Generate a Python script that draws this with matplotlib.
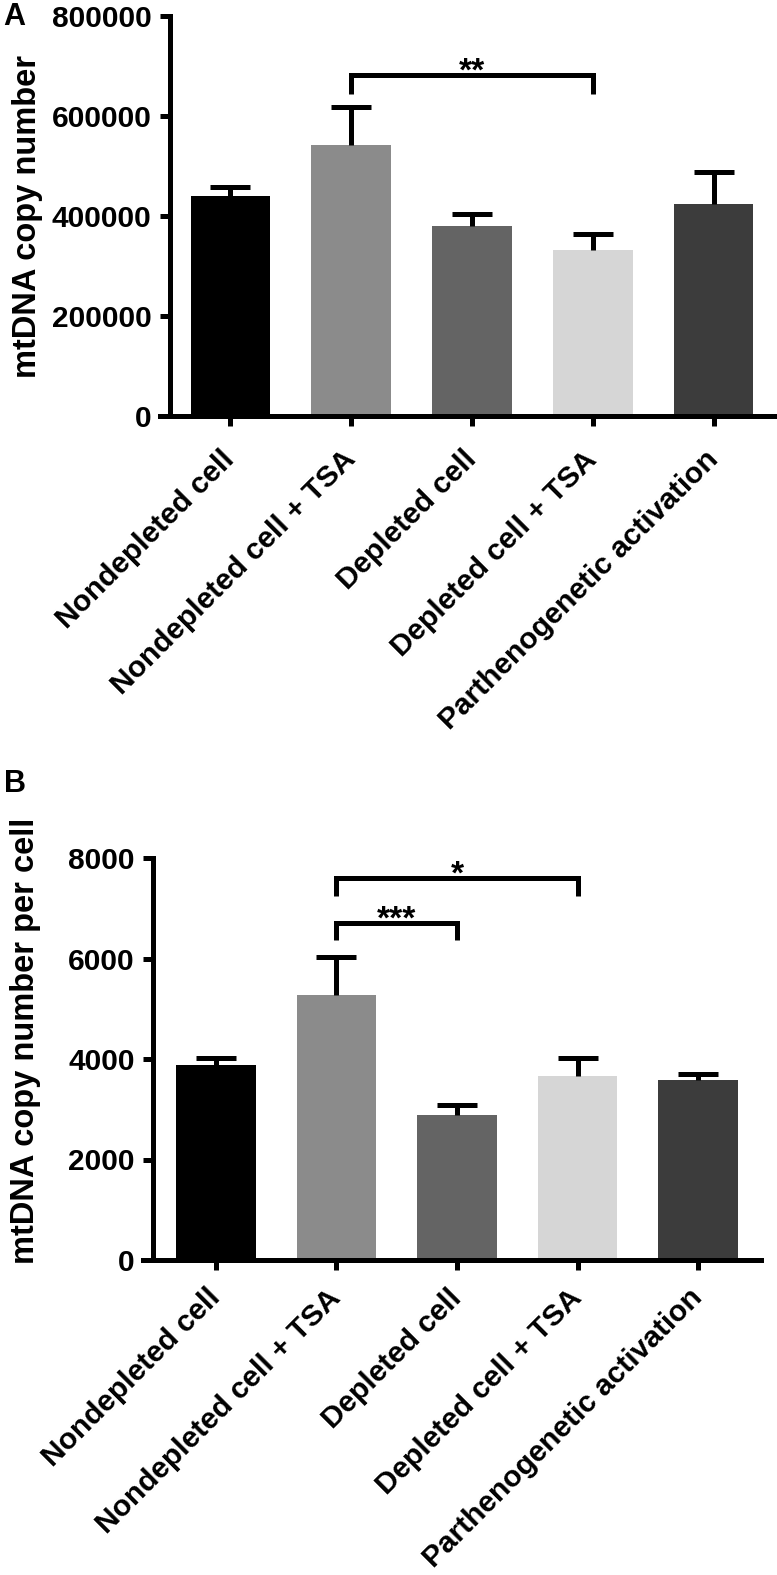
import matplotlib
matplotlib.use("Agg")
import matplotlib.pyplot as plt

plt.rcParams['font.family'] = ['Liberation Sans', 'DejaVu Sans']
plt.rcParams['font.weight'] = 'bold'

groups = ["Nondepleted cell", "Nondepleted cell + TSA", "Depleted cell",
          "Depleted cell + TSA", "Parthenogenetic activation"]
bar_colors = ["#000000", "#8b8b8b", "#646464", "#d6d6d6", "#3c3c3c"]

# A: mtDNA copy number (mean + SEM)
copy_mean = [440000, 541000, 379000, 332000, 423000]
copy_sem = [17000, 76000, 25000, 32000, 64000]
copy_ticks = [0, 200000, 400000, 600000, 800000]
# significance: (left bar, right bar, bracket top, leg end, stars)
copy_sig = [(1, 3, 681000, 644000, "**")]

# B: mtDNA copy number per cell
cell_mean = [3880, 5280, 2886, 3668, 3582]
cell_sem = [135, 746, 189, 348, 129]
cell_ticks = [0, 2000, 4000, 6000, 8000]
cell_sig = [(1, 3, 7600, 7244, "*"), (1, 2, 6716, 6368, "***")]

LW = 3.6


def draw_panel(ax, means, sems, ticks, sig, xlim, xpad):
    x = list(range(len(groups)))
    ax.bar(x, means, width=0.66, color=bar_colors, zorder=2)
    _, caps, _ = ax.errorbar(x, means, yerr=[[0] * len(sems), sems], fmt='none',
                             ecolor='black', elinewidth=LW, capsize=14.4,
                             capthick=LW, zorder=3)
    # only the upper cap (mean + SEM)
    for c in caps:
        if list(c.get_ydata()) == list(means):
            c.set_visible(False)
    ax.set_xlim(*xlim)
    ax.set_ylim(ticks[0], ticks[-1])
    ax.set_yticks(ticks)
    ax.set_yticklabels([str(t) for t in ticks])
    ax.set_xticks(x)
    ax.set_xticklabels(groups, rotation=45, ha='right', va='center',
                       rotation_mode='anchor')
    for s in ['top', 'right']:
        ax.spines[s].set_visible(False)
    for s in ['left', 'bottom']:
        ax.spines[s].set_linewidth(LW)
    # prism style: x axis runs left to the y tick length
    ax.spines['bottom'].set_bounds(xlim[0] - 0.085, xlim[1])
    ax.tick_params(axis='both', width=LW, length=7.2, labelsize=21.5)
    ax.tick_params(axis='y', pad=6)
    ax.tick_params(axis='x', pad=xpad)

    for i, j, top, leg, stars in sig:
        ax.plot([i, i, j, j], [leg, top, top, leg], color='black', lw=LW,
                solid_joinstyle='miter', solid_capstyle='butt', clip_on=False, zorder=4)
        ax.annotate(stars, xy=((i + j) / 2, top), xytext=(0, -4),
                    textcoords='offset points', ha='center', va='baseline',
                    fontsize=24, fontweight='bold', annotation_clip=False)


fig = plt.figure(figsize=(7.77, 15.75), dpi=100)
W, H = 777, 1575

axA = fig.add_axes([170 / W, 1 - 416 / H, 604 / W, 400.5 / H])
draw_panel(axA, copy_mean, copy_sem, copy_ticks, copy_sig, (-0.5, 4.5), 21)

axB = fig.add_axes([153 / W, 1 - 1260 / H, 608 / W, 402 / H])
draw_panel(axB, cell_mean, cell_sem, cell_ticks, cell_sig, (-0.52, 4.52), 17)

fig.text(28 / W, 1 - 216.5 / H, "mtDNA copy number", rotation=90,
         ha='center', va='center', fontsize=23.5)
fig.text(26 / W, 1 - 1041 / H, "mtDNA copy number per cell", rotation=90,
         ha='center', va='center', fontsize=23.5)

fig.text(3 / W, 1 - 25 / H, "A", fontsize=22, va='baseline')
fig.text(4 / W, 1 - 792 / H, "B", fontsize=22, va='baseline')

fig.savefig("out.png", dpi=100)
